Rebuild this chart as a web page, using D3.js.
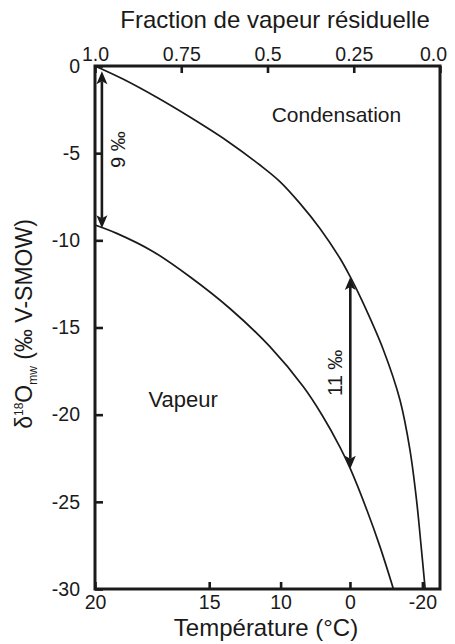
<!DOCTYPE html>
<html>
<head>
<meta charset="utf-8">
<script src="https://cdn.jsdelivr.net/npm/d3@7"></script>
<style>
  html, body { margin: 0; padding: 0; background: #fff; }
  svg { display: block; }
  text { font-family: "Liberation Sans", Arial, Helvetica, sans-serif; fill: #1a1a1a; }
</style>
</head>
<body>
<svg id="chart" width="455" height="644"></svg>
<script>
// Top axis: residual vapour fraction
const fracTicks = [1.0, 0.75, 0.5, 0.25, 0.0];
const fracLabels = ["1.0", "0.75", "0.5", "0.25", "0.0"];

// Left axis: δ18O (‰ V-SMOW)
const deltaTicks = [0, -5, -10, -15, -20, -25, -30];
const deltaLabels = ["0", "-5", "-10", "-15", "-20", "-25", "-30"];

// Bottom axis: temperature labels and the vapour fraction they correspond to
const tempLabels = ["20", "15", "10", "0", "-20"];
const tempFractions = [1.0, 0.669, 0.462, 0.261, 0.051];

// Condensate curve
const condFraction = [1.0, 0.919, 0.820, 0.725, 0.617, 0.522, 0.464, 0.406, 0.348, 0.290, 0.260, 0.227, 0.164, 0.116, 0.087, 0.068, 0.055, 0.043];
const condDelta    = [0.0, -0.75, -1.81, -2.93, -4.30, -5.68, -6.63, -7.88, -9.32, -11.03, -12.1, -13.42, -16.29, -19.16, -22.03, -24.9, -27.48, -30.0];

// Vapour curve
const vapFraction = [1.0, 0.937, 0.831, 0.725, 0.609, 0.493, 0.396, 0.342, 0.290, 0.260, 0.212, 0.174, 0.135];
const vapDelta    = [-9.12, -9.60, -10.65, -12.09, -13.91, -16.10, -18.40, -20.02, -21.86, -23.1, -25.47, -27.57, -30.0];

// Condensate–vapour separation arrows
const gapFraction = [0.98, 0.26];
const gapTop      = [-0.3, -12.1];
const gapBottom   = [-9.3, -23.1];
const gapLabels   = ["9 ‰", "11 ‰"];

// Region labels
const regionNames = ["Condensation", "Vapeur"];
const regionFraction = [0.488, 0.845];
const regionDelta = [-3.2, -19.54];

const svg = d3.select("#chart");
const m = { left: 95, right: 440, top: 66, bottom: 589 };

const x = d3.scaleLinear().domain([1, 0]).range([m.left, m.right]);
const y = d3.scaleLinear().domain([0, -30]).range([m.top, m.bottom]);

const ink = "#1a1a1a";
const tickFont = "19.5px";

// Axes (ticks point into the plot)
function styleAxis(g) {
  g.select(".domain").remove();
  g.selectAll(".tick line").attr("stroke", ink).attr("stroke-width", 2.6);
  g.selectAll(".tick text").style("font-size", tickFont).attr("fill", ink);
}

svg.append("g")
  .attr("transform", `translate(0,${m.top})`)
  .call(d3.axisTop(x).tickValues(fracTicks).tickFormat((d, i) => fracLabels[i])
    .tickSizeInner(-7).tickSizeOuter(0).tickPadding(5))
  .call(styleAxis)
  .call(g => g.selectAll(".tick text").attr("dx", (d, i) => i === fracTicks.length - 1 ? -7 : 0));

svg.append("g")
  .attr("transform", `translate(0,${m.bottom})`)
  .call(d3.axisBottom(x).tickValues(tempFractions).tickFormat((d, i) => tempLabels[i])
    .tickSizeInner(-7).tickSizeOuter(0).tickPadding(6))
  .call(styleAxis);

svg.append("g")
  .attr("transform", `translate(${m.left},0)`)
  .call(d3.axisLeft(y).tickValues(deltaTicks).tickFormat((d, i) => deltaLabels[i])
    .tickSizeInner(-8).tickSizeOuter(0).tickPadding(15))
  .call(styleAxis);

// Frame
svg.append("rect")
  .attr("x", m.left).attr("y", m.top)
  .attr("width", m.right - m.left).attr("height", m.bottom - m.top)
  .attr("fill", "none").attr("stroke", ink).attr("stroke-width", 3);

// Curves
const line = d3.line()
  .x(d => x(d[0])).y(d => y(d[1]))
  .curve(d3.curveCatmullRom.alpha(0.5));

svg.append("path")
  .attr("d", line(condFraction.map((f, i) => [f, condDelta[i]])))
  .attr("fill", "none").attr("stroke", ink).attr("stroke-width", 1.7);

svg.append("path")
  .attr("d", line(vapFraction.map((f, i) => [f, vapDelta[i]])))
  .attr("fill", "none").attr("stroke", ink).attr("stroke-width", 1.7);

// Double-headed arrows
const headLen = 13, headHalf = 5.5;
function arrowHead(g, px, py, dir) {
  // dir = -1 for a tip pointing up, +1 for a tip pointing down
  const b = py - dir * headLen;
  g.append("path")
    .attr("d", `M${px},${py} L${px - headHalf},${b} L${px},${b + dir * 3} L${px + headHalf},${b} Z`)
    .attr("fill", ink);
}

gapFraction.forEach((f, i) => {
  const g = svg.append("g");
  const px = x(f), y1 = y(gapTop[i]), y2 = y(gapBottom[i]);
  g.append("line")
    .attr("x1", px).attr("x2", px)
    .attr("y1", y1 + headLen - 3).attr("y2", y2 - headLen + 3)
    .attr("stroke", ink).attr("stroke-width", 2.6);
  arrowHead(g, px, y1, -1);
  arrowHead(g, px, y2, 1);
  const lx = px + (i === 0 ? 16.5 : -15.5);
  const ly = (y1 + y2) / 2;
  g.append("text")
    .attr("transform", `translate(${lx},${ly}) rotate(-90)`)
    .attr("text-anchor", "middle")
    .attr("dominant-baseline", "central")
    .style("font-size", "20px")
    .text(gapLabels[i]);
});

// Region labels
regionNames.forEach((name, i) => {
  svg.append("text")
    .attr("x", x(regionFraction[i])).attr("y", y(regionDelta[i]))
    .style("font-size", i === 0 ? "21px" : "22px")
    .text(name);
});

// Axis titles
svg.append("text")
  .attr("x", 275).attr("y", 28)
  .attr("text-anchor", "middle")
  .style("font-size", "24px")
  .text("Fraction de vapeur résiduelle");

svg.append("text")
  .attr("x", 266).attr("y", 636)
  .attr("text-anchor", "middle")
  .style("font-size", "24px")
  .text("Température (°C)");

const yTitle = svg.append("text")
  .attr("transform", "translate(32,324) rotate(-90)")
  .attr("text-anchor", "middle")
  .style("font-size", "23px");
yTitle.append("tspan").text("δ");
yTitle.append("tspan").attr("dy", -9).style("font-size", "12px").text("18");
yTitle.append("tspan").attr("dy", 9).text("O");
yTitle.append("tspan").attr("dy", 5).style("font-size", "12px").text("mw");
yTitle.append("tspan").attr("dy", -5).text(" (‰ V-SMOW)");
</script>
</body>
</html>
